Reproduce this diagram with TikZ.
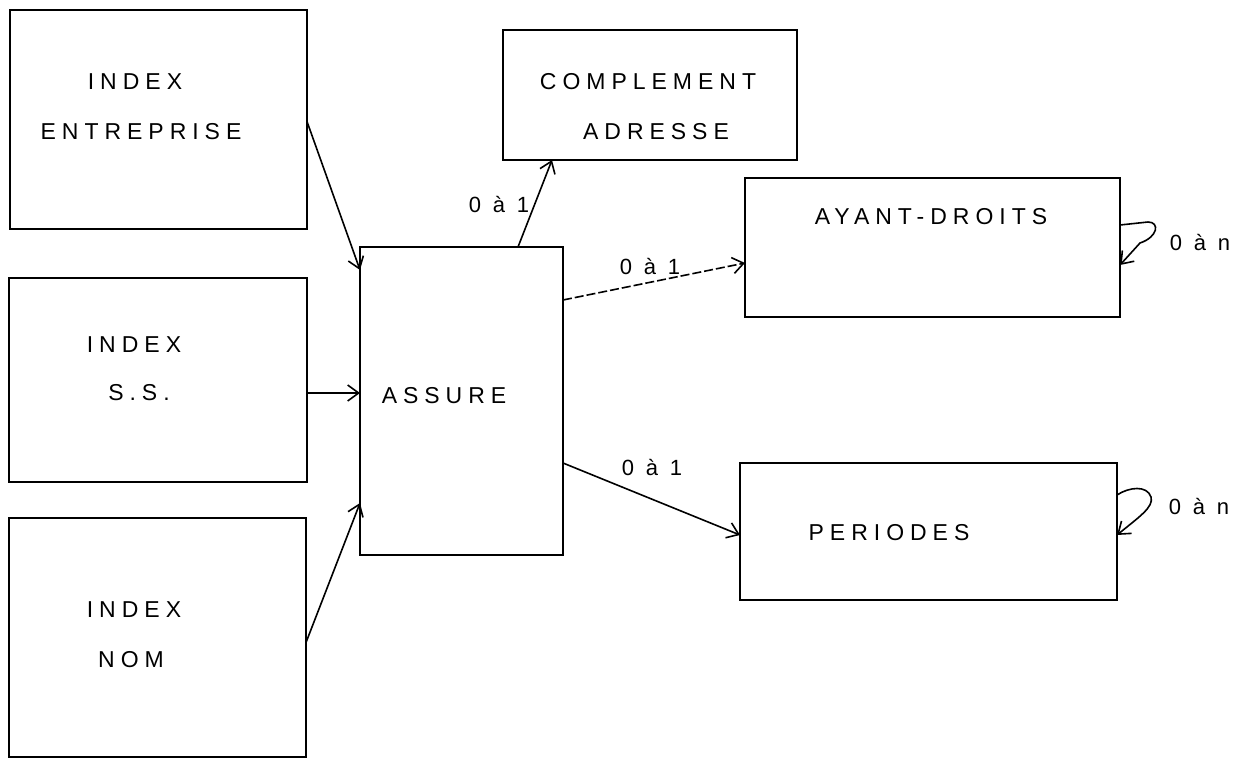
\documentclass[tikz,border=0pt]{standalone}
\usepackage{fontspec}
\newfontfamily\plotfont{Liberation Sans}[LetterSpace=26]
\usetikzlibrary{arrows.meta,calc}
\tikzset{
  box/.style={draw, line width=1.6pt, inner sep=0pt, outer sep=0pt},
  txt/.style={font=\plotfont\fontsize{23}{23}\selectfont, inner sep=0pt},
  lbl/.style={font=\plotfont\fontsize{22}{22}\selectfont, inner sep=0pt},
  arr/.style={line width=1.6pt, -{Straight Barb[length=11pt,width=16pt,line width=1.6pt]}},
}
\begin{document}
\begin{tikzpicture}[x=1pt,y=-1pt]
\useasboundingbox[fill=white] (0,0) rectangle (1238,759);
% boxes
\node[box, minimum width=297pt, minimum height=219pt] (ent) at (158.5,119.5) {};
\node[box, minimum width=298pt, minimum height=204pt] (ss) at (158,380) {};
\node[box, minimum width=297pt, minimum height=239pt] (nom) at (157.5,637.5) {};
\node[box, minimum width=203pt, minimum height=308pt] (assure) at (461.5,401) {};
\node[box, minimum width=294pt, minimum height=130pt] (comp) at (650,95) {};
\node[box, minimum width=375pt, minimum height=139pt] (ayant) at (932.5,247.5) {};
\node[box, minimum width=377pt, minimum height=137pt] (per) at (928.5,531.5) {};
% texts
\node[txt] (t1) at (135,82) {INDEX};
\node[txt] (t2) at (141,132) {ENTREPRISE};
\node[txt] (t3) at (134,345) {INDEX};
\node[txt] (t4) at (139,393) {S.S.};
\node[txt] (t5) at (134,610) {INDEX};
\node[txt] (t6) at (131,660) {NOM};
\node[txt] (t7) at (444,396) {ASSURE};
\node[txt] (t8) at (648,82) {COMPLEMENT};
\node[txt] (t9) at (656,132) {ADRESSE};
\node[txt] (t10) at (931,217) {AYANT-DROITS};
\node[txt] (t11) at (889,533) {PERIODES};
% connectors
\draw[arr] ([yshift=-2pt]ent.east) -- ([yshift=-23pt]assure.north west);
\draw[arr] ([yshift=-13pt]ss.east) -- ([yshift=-13pt]ss.east -| assure.west);
\draw[arr] ([yshift=-5pt]nom.east) -- ([yshift=52pt]assure.south west);
\draw[arr] ([xshift=56.5pt]assure.north) -- ([xshift=49pt]comp.south west);
\draw[arr, dashed, dash pattern=on 9pt off 3pt] ([yshift=-53pt]assure.north east) -- ([yshift=-15.5pt]ayant.west);
\draw[arr] ([yshift=-62pt]assure.east) -- ([yshift=-3.5pt]per.west);
% self loops
\coordinate (l1s) at ([yshift=-47pt]ayant.north east);
\coordinate (l1e) at ([yshift=-87pt]ayant.north east);
\draw[arr] (l1s) -- ($(l1s)+(28,-3)$) .. controls ($(l1s)+(40,-3)$) and ($(l1s)+(38,12)$) .. ($(l1s)+(20,18)$) -- (l1e);
\coordinate (l2s) at ([yshift=-32pt]per.north east);
\coordinate (l2e) at ([yshift=-72pt]per.north east);
\draw[arr] (l2s) .. controls ($(l2s)+(12,-8)$) and ($(l2s)+(30,-10)$) .. ($(l2s)+(34,2)$) .. controls ($(l2s)+(37,12)$) and ($(l2s)+(22,22)$) .. (l2e);
% labels
\node[lbl] (c1) at (499,205) {0 à 1};
\node[lbl] (c2) at (650,267) {0 à 1};
\node[lbl] (c3) at (652,468) {0 à 1};
\node[lbl] (c4) at (1200,243) {0 à n};
\node[lbl] (c5) at (1199,507) {0 à n};
\end{tikzpicture}
\end{document}
